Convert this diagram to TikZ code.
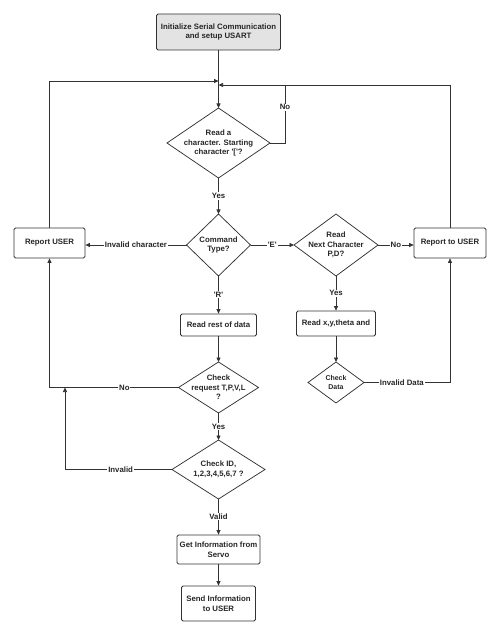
\documentclass[tikz,border=0pt]{standalone}
\usepackage{fontspec}
\setmainfont{Liberation Sans}
\usetikzlibrary{shapes.geometric,arrows.meta}
\begin{document}
\begin{tikzpicture}[x=1pt,y=-1pt,
  every node/.style={font=\fontsize{7.8}{9.6}\selectfont\bfseries, align=center, text=black!85},
  box/.style={draw=black!80, rounded corners=1.5pt, line width=0.75pt, inner sep=0pt, fill=white},
  dia/.style={draw=black!80, diamond, line width=0.75pt, inner sep=0pt, outer sep=0pt},
  dtxt/.style={align=center},
  lbl/.style={fill=white, inner sep=0.8pt},
  conn/.style={draw=black!80, line width=0.75pt, -{Triangle[length=4.5pt,width=4pt]}},
  plain/.style={draw=black!80, line width=0.75pt}
]
\useasboundingbox (0,0) rectangle (500,636);

% nodes
\node[box, fill=black!11, minimum width=124pt, minimum height=36pt] (init) at (218.5,32) {Initialize Serial Communication\\and setup USART};
\node[dia, minimum width=103pt, minimum height=70pt] (d1) at (218.5,143) {};
\node at (d1.center) {Read a\\character. Starting\\character \textquotesingle[\textquotesingle?};
\node[dia, minimum width=64pt, minimum height=62pt] (d2) at (218.5,245) {};
\node at (d2.center) {Command\\Type?};
\node[dia, minimum width=84pt, minimum height=62pt] (d3) at (336,245) {};
\node at (d3.center) {Read\\Next Character\\P,D?};
\node[box, minimum width=71pt, minimum height=30pt] (rep1) at (49.5,243) {Report USER};
\node[box, minimum width=72pt, minimum height=30pt] (rep2) at (450,243) {Report to USER};
\node[box, minimum width=76pt, minimum height=22pt] (rrest) at (218.5,325) {Read rest of data};
\node[dia, minimum width=80pt, minimum height=51pt] (d4) at (218.5,387.5) {};
\node at (d4.center) {Check\\request T,P,V,L\\?};
\node[dia, minimum width=93pt, minimum height=59pt] (d5) at (218.5,469.5) {};
\node at (d5.center) {Check ID,\\1,2,3,4,5,6,7 ?};
\node[box, minimum width=83pt, minimum height=29pt] (get) at (218.5,549.5) {Get Information from\\Servo};
\node[box, minimum width=74pt, minimum height=35pt] (send) at (218.5,603.5) {Send Information\\to USER};
\node[box, minimum width=79pt, minimum height=25pt] (rxy) at (336,323.5) {Read x,y,theta and};
\node[dia, minimum width=56pt, minimum height=41pt] (d6) at (336,382.5) {};
\node[font=\fontsize{7}{8.6}\selectfont\bfseries] at (d6.center) {Check\\Data};

\coordinate (jl) at (218.5,81);
\coordinate (jr) at (218.5,85);
\coordinate (nojoin) at (285,85);
\coordinate (jm) at (65,387.5);

% connectors
\draw[conn] (init) -- (d1);
\draw[conn] (rep1.north) |- (jl);
\draw[conn] (rep2.north) |- (jr);
\draw[plain] (d1.east) -| node[lbl, pos=0.81] {No} (nojoin);
\draw[conn] (d1) -- node[lbl] {Yes} (d2);
\draw[conn] (d2.west) -- node[lbl] {Invalid character} (d2.west -| rep1.east);
\draw[conn] (d2) -- node[lbl] {\textquotesingle E\textquotesingle} (d3);
\draw[conn] (d3.east) -- node[lbl] {No} (d3.east -| rep2.west);
\draw[conn] (d2) -- node[lbl] {\textquotesingle R\textquotesingle} (rrest);
\draw[conn] (rrest) -- (d4);
\draw[conn] (d4.west) -| node[lbl, pos=0.21] {No} (rep1.south);
\draw[conn] (d4) -- node[lbl] {Yes} (d5);
\draw[conn] (d5.west) -| node[lbl, pos=0.24] {Invalid} (jm);
\draw[conn] (d5) -- node[lbl] {Valid} (get);
\draw[conn] (get) -- (send);
\draw[conn] (d3) -- node[lbl] {Yes} (rxy);
\draw[conn] (rxy) -- (d6);
\draw[conn] (d6.east) -| node[lbl, pos=0.22] {Invalid Data} (rep2.south);
\end{tikzpicture}
\end{document}
